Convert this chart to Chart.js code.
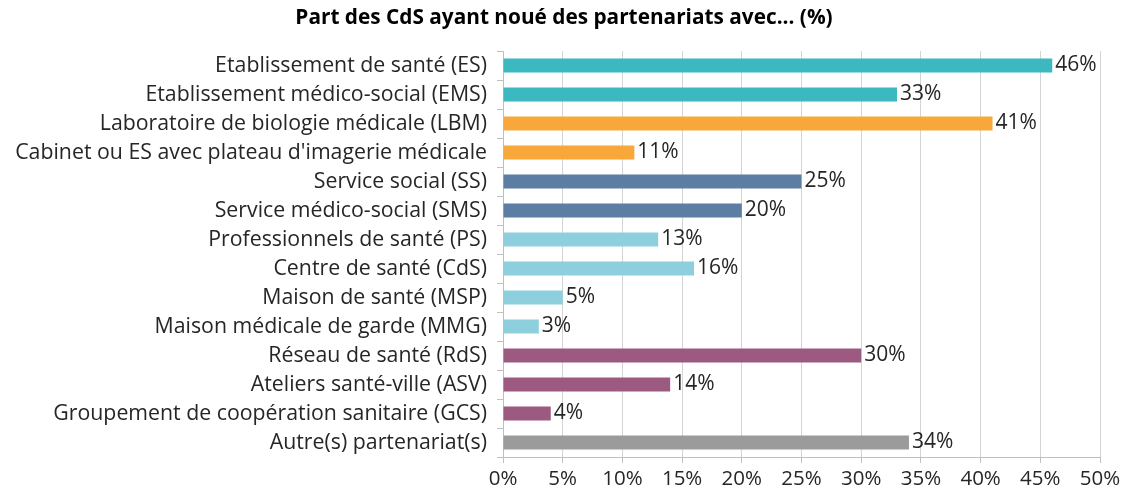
<!DOCTYPE html>
<html>
<head>
<meta charset="utf-8">
<script src="https://cdn.jsdelivr.net/npm/chart.js@4/dist/chart.umd.min.js"></script>
<style>
html,body{margin:0;padding:0;background:#fff;}
#wrap{width:1127px;height:498px;}
</style>
</head>
<body>
<div id="wrap"><canvas id="c" width="1127" height="498"></canvas></div>
<script>
const categories = [
  "Etablissement de santé (ES)",
  "Etablissement médico-social (EMS)",
  "Laboratoire de biologie médicale (LBM)",
  "Cabinet ou ES avec plateau d'imagerie médicale",
  "Service social (SS)",
  "Service médico-social (SMS)",
  "Professionnels de santé (PS)",
  "Centre de santé (CdS)",
  "Maison de santé (MSP)",
  "Maison médicale de garde (MMG)",
  "Réseau de santé (RdS)",
  "Ateliers santé-ville (ASV)",
  "Groupement de coopération sanitaire (GCS)",
  "Autre(s) partenariat(s)"
];
const values = [46, 33, 41, 11, 25, 20, 13, 16, 5, 3, 30, 14, 4, 34];
const barColors = [
  "#3bb8c0", "#3bb8c0",
  "#f8a83b", "#f8a83b",
  "#5b7ea2", "#5b7ea2",
  "#8ecfdd", "#8ecfdd", "#8ecfdd", "#8ecfdd",
  "#9c5a80", "#9c5a80", "#9c5a80",
  "#9b9b9b"
];
const tickValues = [0, 5, 10, 15, 20, 25, 30, 35, 40, 45, 50];
const titleText = "Part des CdS ayant noué des partenariats avec... (%)";
const FONT = "'Open Sans', 'Liberation Sans', sans-serif";

const valueLabels = {
  id: 'valueLabels',
  afterDatasetsDraw(chart) {
    const ctx = chart.ctx;
    const meta = chart.getDatasetMeta(0);
    ctx.save();
    ctx.font = "21px " + FONT;
    ctx.fillStyle = "#262626";
    ctx.textAlign = "left";
    ctx.textBaseline = "middle";
    meta.data.forEach((bar, i) => {
      ctx.fillText(values[i] + "%", bar.x + 3, bar.y);
    });
    ctx.restore();
  }
};

const topTitle = {
  id: 'topTitle',
  afterDraw(chart) {
    const ctx = chart.ctx;
    ctx.save();
    ctx.font = "bold 20.8px " + FONT;
    ctx.fillStyle = "#000";
    ctx.textAlign = "center";
    ctx.textBaseline = "middle";
    ctx.fillText(titleText, 564, 18);
    ctx.restore();
  }
};

new Chart(document.getElementById('c'), {
  type: 'bar',
  data: {
    labels: categories,
    datasets: [{
      data: values,
      backgroundColor: barColors,
      borderWidth: 0,
      barPercentage: 0.48,
      categoryPercentage: 1.0
    }]
  },
  options: {
    indexAxis: 'y',
    responsive: false,
    animation: false,
    devicePixelRatio: 1,
    layout: { padding: { left: 0, right: 27, top: 51, bottom: 0 } },
    plugins: {
      legend: { display: false },
      tooltip: { enabled: false },
      title: { display: false }
    },
    scales: {
      x: {
        min: 0, max: 50,
        afterBuildTicks(scale) { scale.ticks = tickValues.map(v => ({ value: v })); },
        afterFit(scale) { scale.height = 41; },
        ticks: {
          color: "#262626",
          font: { family: FONT, size: 20.5 },
          padding: 4,
          maxRotation: 0,
          callback: v => v + "%"
        },
        grid: {
          color: "#d4d4d4",
          lineWidth: 1,
          drawTicks: true,
          tickLength: 6,
          tickColor: "#bfbfbf"
        },
        border: { display: true, color: "#bfbfbf" }
      },
      y: {
        afterFit(scale) { scale.width = 503; },
        ticks: {
          color: "#262626",
          font: { family: FONT, size: 21.3 },
          padding: 10,
          autoSkip: false
        },
        grid: {
          offset: true,
          drawOnChartArea: false,
          drawTicks: true,
          tickLength: 6,
          color: "#bfbfbf"
        },
        border: { display: true, color: "#bfbfbf" }
      }
    }
  },
  plugins: [valueLabels, topTitle]
});
</script>
</body>
</html>
